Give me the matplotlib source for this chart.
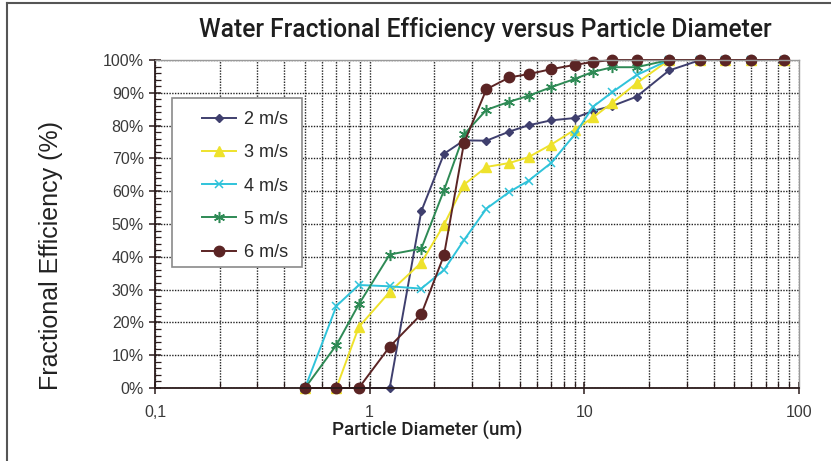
import numpy as np
import matplotlib.pyplot as plt
from matplotlib.lines import Line2D
from matplotlib.patches import Rectangle
from matplotlib.ticker import FixedLocator, FuncFormatter, MultipleLocator

plt.rcParams['font.family'] = ['Liberation Sans', 'DejaVu Sans']

# particle diameters (um), shared by all series
diam = [0.5, 0.7, 0.89, 1.24, 1.74, 2.22, 2.75, 3.5, 4.48, 5.5, 7.0, 9.0,
        11.0, 13.5, 17.5, 24.8, 34.7, 45.0, 60.0, 85.0]

# fractional efficiency (%) per air velocity
eff_2 = [0, 0, 0, 0, 53.9, 71.4, 75.5, 75.4, 78.2, 80.1, 81.6, 82.3,
         84.5, 86.0, 88.8, 96.8, 100, 100, 100, 100]
eff_3 = [0, 0, 18.6, 29.3, 38.2, 49.8, 62.0, 67.4, 68.6, 70.4, 74.2, 78.7,
         82.5, 87.0, 92.9, 100, 100, 100, 100, 100]
eff_4 = [0, 25.0, 31.4, 31.0, 30.3, 36.0, 45.1, 54.7, 59.8, 63.2, 68.6, 77.2,
         85.8, 90.2, 95.4, 100, 100, 100, 100, 100]
eff_5 = [0, 13.1, 25.5, 40.7, 42.5, 60.3, 77.3, 84.8, 87.3, 89.1, 91.7, 94.2,
         96.4, 97.8, 97.8, 100, 100, 100, 100, 100]
eff_6 = [0, 0, 0, 12.6, 22.5, 40.5, 74.7, 91.1, 94.7, 95.7, 97.2, 98.5,
         99.4, 100, 100, 100, 100, 100, 100, 100]

labels = ['2 m/s', '3 m/s', '4 m/s', '5 m/s', '6 m/s']
x_ticks = [0.1, 1, 10, 100]
x_tick_labels = ['0,1', '1', '10', '100']

W, H = 831, 461
fig = plt.figure(figsize=(W / 100, H / 100), dpi=100)
ax = fig.add_axes([155 / W, 1 - 388 / H, 644 / W, 328 / H])

styles = [
    dict(color='#3f3f6e', marker='D', ms=4.2),
    dict(color='#eee22c', marker='^', ms=7),
    dict(color='#2fc3da', marker='x', ms=6, mew=1.1),
    dict(color='#2e8a55', marker=(6, 2, 0), ms=8, mew=1.1),
    dict(color='#5b2424', marker='o', ms=7.5),
]
series = [eff_2, eff_3, eff_4, eff_5, eff_6]
for s, lab, st in zip(series, labels, styles):
    ax.plot(diam, s, lw=1.4, label=lab, clip_on=False, **st)

ax.set_xscale('log')
ax.set_xlim(0.1, 100)
ax.set_ylim(0, 100)

ax.xaxis.set_major_locator(FixedLocator(x_ticks))
ax.set_xticklabels(x_tick_labels)
minor_x = [m * d for d in (0.1, 1, 10) for m in range(2, 10)]
ax.xaxis.set_minor_locator(FixedLocator(minor_x))
ax.xaxis.set_minor_formatter(FuncFormatter(lambda v, p: ''))
ax.yaxis.set_major_locator(MultipleLocator(10))
ax.yaxis.set_minor_locator(MultipleLocator(2))
ax.yaxis.set_major_formatter(FuncFormatter(lambda v, p: f'{v:.0f}%'))

grid_kw = dict(color='#222222', lw=1.0, linestyle=(0, (1, 1)))
ax.grid(True, which='major', axis='both', **grid_kw)
ax.grid(True, which='minor', axis='x', **grid_kw)
ax.set_axisbelow(True)

ax.tick_params(which='major', direction='inout', length=8, width=1.1,
               color='#2a1a1a', labelsize=11.5, labelcolor='#3a3a3a', pad=4)
ax.tick_params(axis='x', which='major', pad=8)
ax.tick_params(which='minor', direction='in', length=4, width=0.9, color='#2a1a1a')

for side in ('left', 'bottom'):
    ax.spines[side].set_color('#2a1a1a')
    ax.spines[side].set_linewidth(1.3)
for side in ('top', 'right'):
    ax.spines[side].set_color('#9a9a9a')
    ax.spines[side].set_linewidth(1.0)

ax.set_xlabel('Particle Diameter (um)', fontsize=13.5, fontweight='medium',
              family=['Roboto', 'Liberation Sans'], color='#222222')
ax.xaxis.set_label_coords((427 - 155) / 644, (388 - 430) / 328)
ax.xaxis.label.set_va('center')
ax.set_ylabel('Fractional Efficiency (%)', fontsize=18, color='#222222')
ax.yaxis.set_label_coords((51 - 155) / 644, (388 - 255) / 328)
ax.yaxis.label.set_va('center')

fig.text(485 / W, 1 - 36.7 / H,
         'Water Fractional Efficiency versus Particle Diameter',
         ha='center', va='baseline', fontsize=17.7, fontweight='medium',
         family=['Roboto', 'Liberation Sans'], color='#1e1e1e')

# legend frame drawn separately so that its padding matches the original
ax.add_patch(Rectangle((172 / W, 1 - 267 / H), 130 / W, 169 / H,
                       transform=fig.transFigure, facecolor='white',
                       edgecolor='#8a8a8a', lw=1.2, zorder=5, clip_on=False))
leg = ax.legend(loc='upper left', bbox_to_anchor=(193 / W, 1 - 102 / H),
                bbox_transform=fig.transFigure, frameon=False, fontsize=13,
                borderpad=0, handlelength=1.9, handletextpad=0.4,
                labelspacing=0.9, labelcolor='#2a2a2a')
leg.set_zorder(6)

# outer frame of the original figure
fig.add_artist(Line2D([7 / W, 1.0], [1 - 3 / H, 1 - 3 / H],
                      transform=fig.transFigure, color='#555555', lw=1.5))
fig.add_artist(Line2D([7 / W, 7 / W], [0.0, 1 - 3 / H],
                      transform=fig.transFigure, color='#555555', lw=1.5))

fig.savefig('out.png', dpi=100)
